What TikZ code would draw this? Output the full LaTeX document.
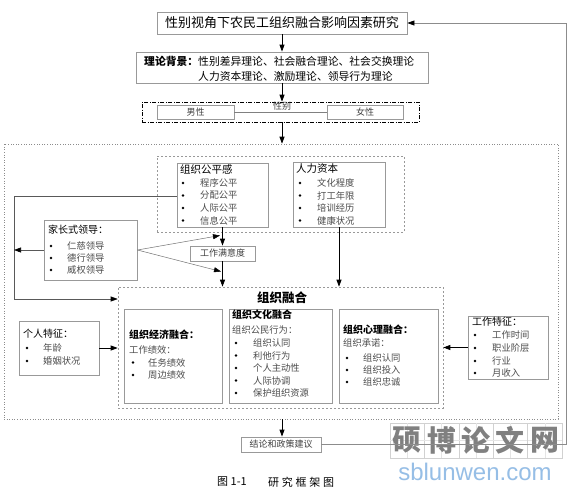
\documentclass[tikz,border=0pt]{standalone}
\usepackage{fontspec}
\setmainfont{Noto Sans CJK SC}
\newfontfamily\latinsans{Liberation Sans}
\usetikzlibrary{arrows.meta}
\newcommand\fsz[1]{\fontsize{#1}{#1}\selectfont}
\newcommand\myitem[5]{\node[dot] (#4b) at (#1,#3) {}; \node[itm] (#4) at (#2,#3) {#5};}
\begin{document}
\begin{tikzpicture}[x=1pt,y=-1pt,
  box/.style={draw=black!40, line width=0.8pt, fill=white, inner sep=0pt},
  grp/.style={draw=black!40, line width=0.6pt, dash pattern=on 2pt off 2pt, inner sep=0pt},
  arr/.style={-{Triangle[length=7pt,width=5pt,black]}, line width=0.8pt},
  thinarr/.style={-{Triangle[length=7pt,width=5pt,black]}, line width=0.5pt, draw=black!55},
  ttl/.style={font=\fsz{10}, anchor=west, inner sep=0pt},
  itm/.style={font=\fsz{9.3}, text=black!70, anchor=west, inner sep=0pt},
  dot/.style={circle, fill=black, inner sep=0pt, minimum size=2.6pt},
  plain/.style={inner sep=0pt},
]
\useasboundingbox (0,0) rectangle (579,493);
\fill[white] (0,0) rectangle (579,493);

% watermark
\foreach \i in {0,...,4}{
  \draw[black!18, line width=0.6pt] (390+34.4*\i,423) rectangle (390+34.4*\i+34.4,458);
  \draw[black!10, line width=0.4pt] (390+34.4*\i+17.2,423) -- (390+34.4*\i+17.2,458);
  \draw[black!10, line width=0.4pt] (390+34.4*\i,440.5) -- (390+34.4*\i+34.4,440.5);
}
\node[plain, text=black!50, font=\fsz{29}\bfseries] (wm1) at (407.2,440.5) {硕};
\node[plain, text=black!50, font=\fsz{29}\bfseries] (wm2) at (441.6,440.5) {博};
\node[plain, text=black!50, font=\fsz{29}\bfseries] (wm3) at (476.0,440.5) {论};
\node[plain, text=black!50, font=\fsz{29}\bfseries] (wm4) at (510.4,440.5) {文};
\node[plain, text=black!50, font=\fsz{29}\bfseries] (wm5) at (544.8,440.5) {网};
\node[plain, text={rgb,255:red,150;green,190;blue,230}, font=\latinsans\fsz{24}] (wm6) at (475,472) {sblunwen.com};

% outer groups
\node[draw=black!45, line width=0.6pt, dash pattern=on 1pt off 1.6pt, minimum width=554, minimum height=275, inner sep=0pt] (outer) at (281,281.5) {};
\node[grp, minimum width=247, minimum height=76] (upper) at (280.5,194) {};

% title
\node[box, minimum width=250, minimum height=22, font=\fsz{13}] (title) at (282,23) {性别视角下农民工组织融合影响因素研究};

% theory
\node[box, minimum width=292, minimum height=31] (theory) at (282,67.5) {};
\node[plain, anchor=west, font=\fsz{10.8}] (th1) at (144,61) {\textbf{理论背景：}性别差异理论、社会融合理论、社会交换理论};
\node[plain, anchor=west, font=\fsz{10.8}] (th2) at (198,76) {人力资本理论、激励理论、领导行为理论};

% gender
\node[draw=black, line width=0.6pt, dash pattern=on 4pt off 1.5pt on 1pt off 1.5pt, minimum width=277, minimum height=20, inner sep=0pt] (gender) at (280.5,112) {};
\node[box, minimum width=77, minimum height=14, font=\fsz{9}, text=black!75] (male) at (195.5,112) {男性};
\node[box, minimum width=76, minimum height=14, font=\fsz{9}, text=black!75] (female) at (365,112) {女性};
\draw[black!50, line width=0.6pt] (male.east) -- (female.west);
\node[plain, font=\fsz{9}, text=black!75] (genlab) at (282,106.5) {性别};

% fairness
\node[box, minimum width=91, minimum height=64] (fair) at (222.5,195) {};
\node[ttl, font=\fsz{10.5}] (fairt) at (180,169) {组织公平感};
\myitem{183}{200}{183}{f1}{程序公平}
\myitem{183}{200}{195.5}{f2}{分配公平}
\myitem{183}{200}{208}{f3}{人际公平}
\myitem{183}{200}{220.5}{f4}{信息公平}

% human capital
\node[box, minimum width=92, minimum height=65] (hc) at (339,194.5) {};
\node[ttl, font=\fsz{10.5}] (hct) at (296,169) {人力资本};
\myitem{300}{317}{183}{h1}{文化程度}
\myitem{300}{317}{195.5}{h2}{打工年限}
\myitem{300}{317}{208}{h3}{培训经历}
\myitem{300}{317}{220.5}{h4}{健康状况}

% satisfaction
\node[box, minimum width=65, minimum height=15, font=\fsz{9}, text=black!75] (sat) at (222.5,253.5) {工作满意度};

% paternalistic leadership
\node[box, minimum width=93, minimum height=60] (lead) at (90.5,250) {};
\node[ttl] (leadt) at (48,230) {家长式领导：};
\myitem{51}{67}{246}{l1}{仁慈领导}
\myitem{51}{67}{258}{l2}{德行领导}
\myitem{51}{67}{270}{l3}{威权领导}

% integration
\node[grp, minimum width=325, minimum height=121] (integ) at (280.5,347.5) {};
\node[plain, font=\fsz{12.5}\bfseries] (integt) at (282,298) {组织融合};

\node[box, minimum width=98, minimum height=94] (econ) at (173,356) {};
\node[ttl, font=\fsz{10}\bfseries] (econt) at (129,335) {组织经济融合：};
\node[itm] (econs) at (129,350) {工作绩效：};
\myitem{133}{148}{362.5}{e1}{任务绩效}
\myitem{133}{148}{375}{e2}{周边绩效}

\node[box, minimum width=103, minimum height=94] (cult) at (280.5,356) {};
\node[ttl, font=\fsz{10}\bfseries] (cultt) at (232,314.5) {组织文化融合};
\node[itm] (cults) at (232,330) {组织公民行为：};
\myitem{236}{253}{343}{c1}{组织认同}
\myitem{236}{253}{355.5}{c2}{利他行为}
\myitem{236}{253}{368}{c3}{个人主动性}
\myitem{236}{253}{380.5}{c4}{人际协调}
\myitem{236}{253}{393}{c5}{保护组织资源}

\node[box, minimum width=99, minimum height=94] (psy) at (388.5,356) {};
\node[ttl, font=\fsz{10}\bfseries] (psyt) at (343,330) {组织心理融合：};
\node[itm] (psys) at (343,343) {组织承诺：};
\myitem{347}{363}{358}{p1}{组织认同}
\myitem{347}{363}{370}{p2}{组织投入}
\myitem{347}{363}{382}{p3}{组织忠诚}

% personal traits
\node[box, minimum width=80, minimum height=54] (pers) at (59,348) {};
\node[ttl] (perst) at (23,334) {个人特征：};
\myitem{27}{43}{348}{pe1}{年龄}
\myitem{27}{43}{361}{pe2}{婚姻状况}

% job traits
\node[box, minimum width=80, minimum height=63] (job) at (508,347.5) {};
\node[ttl] (jobt) at (472,322) {工作特征：};
\myitem{475}{492}{335}{j1}{工作时间}
\myitem{475}{492}{348}{j2}{职业阶层}
\myitem{475}{492}{361}{j3}{行业}
\myitem{475}{492}{373}{j4}{月收入}

% conclusion
\node[box, minimum width=80, minimum height=15, font=\fsz{9}, text=black!75] (concl) at (281,444.5) {结论和政策建议};

% caption
\node[plain, anchor=west, font=\fsz{11}] (cap1) at (217,482) {图 1-1};
\node[plain, anchor=west, font=\fsz{11}\addfontfeatures{LetterSpace=25}] (cap2) at (268,482) {研究框架图};

% connectors
\draw[arr] (title.south) -- (theory.north);
\draw[arr] (theory.south) -- (gender.north -| theory.south);
\draw[arr] (gender.south -| theory.south) -- (outer.north -| theory.south);
\draw[arr] (fair.south) -- (sat.north);
\draw[arr] (sat.south) -- (integ.north -| sat.south);
\draw[arr] (hc.south) -- (integ.north -| hc.south);
\draw[arr] (pers.east) -- (integ.west |- pers.east);
\draw[arr] (job.west) -- (integ.east |- job.west);
\draw[arr] (outer.south -| theory.south) -- (concl.north -| theory.south);
\draw[arr, draw=black!65, line width=0.6pt] (fair.west |- 0,196) -- (14,196) -- (14,299) -- (integ.west |- 0,299);
\draw[arr, draw=black!65, line width=0.6pt] (lead.west) -- (14,250);
\coordinate (t1) at (220,235.5);
\coordinate (t2) at (221,271.5);
\draw[thinarr] (lead.east) -- (t1);
\draw[thinarr] (lead.east) -- (t2);
\draw[arr, draw=black!45, line width=0.6pt] (concl.east) -- (566,444.5) -- (566,23) -- (title.east);
\end{tikzpicture}
\end{document}
